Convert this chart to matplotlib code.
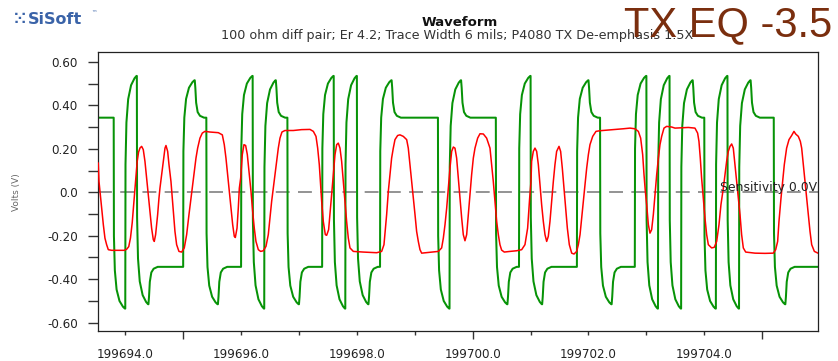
import numpy as np
import matplotlib
matplotlib.use("Agg")
import matplotlib.pyplot as plt

plt.rcParams['font.family'] = ['DejaVu Sans']
plt.rcParams['lines.scale_dashes'] = False

T0 = 199694.0      # ns, time origin of the readings below
UI = 0.2           # ns, one bit

# TX (green): bit pattern, one entry per UI, first UI starts at T0 - 4 UI
green_first_ui = -4
green_bits = [1, 1, 1, 0, 1, 0, 0, 0, 0, 1, 1, 0, 0, 0, 1, 0,
              1, 1, 0, 0, 0, 1, 0, 1, 0, 0, 1, 1, 1, 1, 1, 0,
              1, 1, 1, 1, 0, 0, 1, 0, 0, 0, 0, 1, 1, 0, 0, 0,
              1, 0, 1, 0, 1, 1, 0, 1, 0, 1, 1, 1, 0, 0, 0, 0]
green_peak_single = 0.535   # V, level of an isolated bit
green_peak = 0.515          # V, first bit of a run
green_deemph = 0.343        # V, de-emphasised level

# RX (red): (time offset from T0 in ns, volts)
red_trace = [
    (-0.466, 0.134), (-0.454, 0.050), (-0.437, 0.004), (-0.408, -0.073), (-0.379, -0.149),
    (-0.351, -0.211), (-0.322, -0.241), (-0.293, -0.264), (-0.235, -0.267), (-0.017, -0.267),
    (0.024, -0.262), (0.060, -0.250), (0.090, -0.210), (0.120, -0.140), (0.150, -0.040),
    (0.180, 0.060), (0.205, 0.140), (0.230, 0.185), (0.255, 0.204), (0.283, 0.211),
    (0.311, 0.196), (0.340, 0.142), (0.369, 0.065), (0.398, -0.011), (0.427, -0.088),
    (0.455, -0.165), (0.484, -0.218), (0.501, -0.226), (0.524, -0.195), (0.559, -0.103),
    (0.582, -0.027), (0.599, 0.019), (0.628, 0.081), (0.657, 0.142), (0.686, 0.203),
    (0.703, 0.215), (0.732, 0.188), (0.755, 0.127), (0.789, 0.050), (0.812, -0.027),
    (0.835, -0.103), (0.858, -0.180), (0.887, -0.241), (0.927, -0.272), (0.973, -0.275),
    (1.019, -0.256), (1.060, -0.195), (1.100, -0.103), (1.135, -0.027), (1.163, 0.035),
    (1.192, 0.096), (1.221, 0.157), (1.250, 0.203), (1.290, 0.249), (1.330, 0.272),
    (1.376, 0.280), (1.463, 0.277), (1.607, 0.274), (1.676, 0.264), (1.710, 0.219),
    (1.739, 0.157), (1.768, 0.081), (1.797, 0.004), (1.826, -0.073), (1.855, -0.149),
    (1.883, -0.203), (1.901, -0.208), (1.930, -0.165), (1.952, -0.073), (1.970, 0.019),
    (1.993, 0.065), (2.021, 0.173), (2.050, 0.219), (2.079, 0.215), (2.108, 0.173),
    (2.142, 0.081), (2.171, 0.004), (2.200, -0.088), (2.228, -0.165), (2.257, -0.226),
    (2.298, -0.264), (2.338, -0.272), (2.384, -0.269), (2.430, -0.249), (2.470, -0.195),
    (2.499, -0.119), (2.528, -0.042), (2.557, 0.019), (2.585, 0.081), (2.614, 0.142),
    (2.643, 0.203), (2.672, 0.249), (2.706, 0.277), (2.758, 0.284), (2.902, 0.284),
    (3.046, 0.288), (3.190, 0.289), (3.248, 0.280), (3.294, 0.257), (3.323, 0.203),
    (3.351, 0.127), (3.369, 0.050), (3.392, -0.042), (3.420, -0.134), (3.455, -0.195),
    (3.478, -0.198), (3.512, -0.172), (3.535, -0.103), (3.564, -0.011), (3.593, 0.081),
    (3.622, 0.173), (3.651, 0.219), (3.679, 0.226), (3.708, 0.203), (3.737, 0.142),
    (3.766, 0.050), (3.794, -0.042), (3.823, -0.134), (3.852, -0.211), (3.881, -0.256),
    (3.939, -0.272), (4.111, -0.275), (4.342, -0.278), (4.428, -0.272), (4.468, -0.241),
    (4.514, -0.103), (4.543, 0.004), (4.572, 0.081), (4.600, 0.157), (4.629, 0.203),
    (4.658, 0.242), (4.704, 0.261), (4.744, 0.264), (4.802, 0.257), (4.860, 0.242),
    (4.888, 0.203), (4.917, 0.127), (4.946, 0.050), (4.975, -0.027), (5.004, -0.103),
    (5.032, -0.180), (5.061, -0.226), (5.090, -0.264), (5.119, -0.280), (5.292, -0.275),
    (5.407, -0.272), (5.464, -0.256), (5.493, -0.211), (5.522, -0.149), (5.551, -0.073),
    (5.579, 0.019), (5.608, 0.111), (5.637, 0.188), (5.666, 0.208), (5.694, 0.203),
    (5.723, 0.157), (5.752, 0.065), (5.781, -0.027), (5.810, -0.119), (5.838, -0.195),
    (5.867, -0.223), (5.896, -0.195), (5.925, -0.103), (5.953, -0.011), (5.982, 0.081),
    (6.011, 0.157), (6.040, 0.203), (6.086, 0.249), (6.126, 0.269), (6.184, 0.268),
    (6.241, 0.249), (6.299, 0.203), (6.327, 0.127), (6.356, 0.050), (6.385, -0.042),
    (6.414, -0.134), (6.443, -0.195), (6.471, -0.241), (6.500, -0.266), (6.546, -0.275),
    (6.644, -0.272), (6.759, -0.269), (6.846, -0.264), (6.903, -0.241), (6.949, -0.165),
    (6.984, -0.027), (7.007, 0.050), (7.018, 0.142), (7.047, 0.188), (7.076, 0.203),
    (7.105, 0.188), (7.134, 0.127), (7.162, 0.035), (7.191, -0.057), (7.220, -0.134),
    (7.249, -0.195), (7.278, -0.226), (7.306, -0.203), (7.335, -0.134), (7.364, -0.042),
    (7.393, 0.050), (7.421, 0.127), (7.450, 0.188), (7.491, 0.211), (7.519, 0.188),
    (7.548, 0.111), (7.577, 0.019), (7.606, -0.073), (7.635, -0.165), (7.669, -0.241),
    (7.710, -0.280), (7.750, -0.284), (7.796, -0.272), (7.825, -0.241), (7.854, -0.195),
    (7.882, -0.119), (7.911, -0.042), (7.940, 0.035), (7.969, 0.111), (7.998, 0.173),
    (8.026, 0.219), (8.073, 0.257), (8.130, 0.280), (8.199, 0.283), (8.429, 0.288),
    (8.602, 0.292), (8.717, 0.295), (8.803, 0.292), (8.861, 0.280), (8.901, 0.249),
    (8.936, 0.173), (8.959, 0.081), (8.982, 0.004), (9.005, -0.057), (9.034, -0.149),
    (9.062, -0.188), (9.091, -0.172), (9.120, -0.103), (9.149, -0.011), (9.178, 0.081),
    (9.207, 0.157), (9.235, 0.219), (9.264, 0.257), (9.304, 0.295), (9.350, 0.303),
    (9.437, 0.300), (9.494, 0.295), (9.724, 0.298), (9.839, 0.295), (9.885, 0.272),
    (9.908, 0.234), (9.931, 0.157), (9.954, 0.065), (9.983, -0.027), (10.012, -0.119),
    (10.041, -0.195), (10.070, -0.241), (10.127, -0.256), (10.173, -0.253), (10.214, -0.226),
    (10.254, -0.149), (10.288, -0.057), (10.329, 0.019), (10.357, 0.081), (10.386, 0.142),
    (10.415, 0.188), (10.444, 0.211), (10.473, 0.222), (10.501, 0.203), (10.530, 0.127),
    (10.559, 0.050), (10.588, -0.027), (10.617, -0.103), (10.645, -0.195), (10.674, -0.256),
    (10.715, -0.275), (10.876, -0.280), (11.048, -0.281), (11.192, -0.280), (11.233, -0.264),
    (11.267, -0.226), (11.290, -0.134), (11.325, -0.027), (11.353, 0.050), (11.382, 0.127),
    (11.422, 0.203), (11.463, 0.242), (11.509, 0.261), (11.549, 0.280), (11.578, 0.268),
    (11.624, 0.257), (11.659, 0.234), (11.682, 0.203), (11.711, 0.127), (11.739, 0.050),
    (11.768, -0.027), (11.797, -0.103), (11.826, -0.180), (11.855, -0.241), (11.901, -0.272),
    (11.964, -0.280),
]

x_ticks = list(range(199694, 199706))
x_labels = ["199694.0", "", "199696.0", "", "199698.0", "", "199700.0", "",
            "199702.0", "", "199704.0", ""]
y_ticks = [-0.6, -0.5, -0.4, -0.3, -0.2, -0.1, 0.0, 0.1, 0.2, 0.3, 0.4, 0.5, 0.6]
y_labels = ["-0.60", "", "-0.40", "", "-0.20", "", "0.0", "", "0.20", "", "0.40", "", "0.60"]
sensitivity = 0.0

# edge shape of the TX driver (fraction of UI, fraction of swing)
EDGE = [(0.0, 0.0), (0.02, 0.62), (0.10, 0.80), (0.25, 0.90), (0.50, 0.96), (0.80, 0.99), (0.97, 1.0)]
SETTLE = [(0.0, 1.0), (0.05, 0.8), (0.12, 0.4), (0.25, 0.15), (0.45, 0.05), (0.8, 0.0)]


def build_green():
    t, v = [], []
    cur = green_deemph if green_bits[0] else -green_deemph
    t.append(T0 + green_first_ui * UI)
    v.append(cur)
    n = len(green_bits)
    for i in range(1, n):
        s = 1 if green_bits[i] else -1
        tk = T0 + (green_first_ui + i) * UI
        if green_bits[i] != green_bits[i - 1]:
            run = i + 1 < n and green_bits[i + 1] == green_bits[i]
            peak = s * (green_peak if run else green_peak_single)
            start = cur
            for u, f in EDGE:
                t.append(tk + u * UI)
                v.append(start + f * (peak - start))
            cur = peak
        elif abs(cur) > green_deemph + 1e-6:
            base = s * green_deemph
            for u, f in SETTLE:
                t.append(tk + u * UI)
                v.append(base + f * (cur - base))
            cur = base
    t.append(T0 + (green_first_ui + n) * UI)
    v.append(cur)
    return np.array(t), np.array(v)


fig = plt.figure(figsize=(8.38, 3.61), dpi=100)
ax = fig.add_axes([98 / 838, 30 / 361, 720 / 838, 279 / 361])

gt, gv = build_green()
ax.plot(gt, gv, color='#079307', lw=1.45, zorder=2)

red_dt, red_v = zip(*red_trace)
ax.plot(T0 + np.array(red_dt), red_v, color='#ff0000', lw=1.1, zorder=3)

ax.axhline(sensitivity, color='#808080', lw=1.2, dashes=(10, 6), zorder=1)
ax.text(T0 + 10.27, sensitivity + 0.006, "Sensitivity 0.0V", fontsize=8.9,
        color='#222222', ha='left', va='baseline', zorder=4)

ax.set_xlim(T0 - 0.471, T0 + 11.964)
ax.set_ylim(-0.638, 0.645)

ax.set_xticks(x_ticks)
ax.set_xticklabels(x_labels)
ax.set_yticks(y_ticks)
ax.set_yticklabels(y_labels)
ax.tick_params(axis='both', direction='out', colors='#333333', labelcolor='#222222',
               labelsize=8.6, width=1.0)
ax.tick_params(axis='x', length=3, pad=9)
ax.tick_params(axis='y', length=7, pad=7.5)
for x, tick in zip(x_ticks, ax.xaxis.get_major_ticks()):
    if x % 5 == 0:
        tick.tick1line.set_markersize(5.5)

for sp in ax.spines.values():
    sp.set_color('#222222')
    sp.set_linewidth(0.9)

fig.text(16 / 838, 1 - 192 / 361, "Volts (V)", rotation=90, fontsize=6.5,
         color='#666666', ha='center', va='center')

fig.text(460 / 838, 1 - 22 / 361, "Waveform", fontsize=9.5, fontweight='bold',
         color='#111111', ha='center', va='center')
fig.text(457 / 838, 1 - 35 / 361,
         "100 ohm diff pair; Er 4.2; Trace Width 6 mils; P4080 TX De-emphasis 1.5X",
         fontsize=9.2, color='#333333', ha='center', va='center', zorder=1)
fig.text(832 / 838, 1 - 36 / 361, "TX EQ -3.5", fontsize=30, color='#7a2e0e',
         family='Liberation Sans', ha='right', va='baseline', zorder=2)

# logo
fig.text(13 / 838, 1 - 19 / 361, "\u2059", fontsize=12, color='#3a63a8',
         fontweight='bold', ha='left', va='center')
fig.text(28 / 838, 1 - 19 / 361, "SiSoft", fontsize=11.5, color='#3a63a8',
         fontweight='bold', ha='left', va='center')
fig.text(91 / 838, 1 - 14 / 361, "\u2122", fontsize=4, color='#3a63a8',
         ha='left', va='center')

fig.savefig("out.png", dpi=100)
